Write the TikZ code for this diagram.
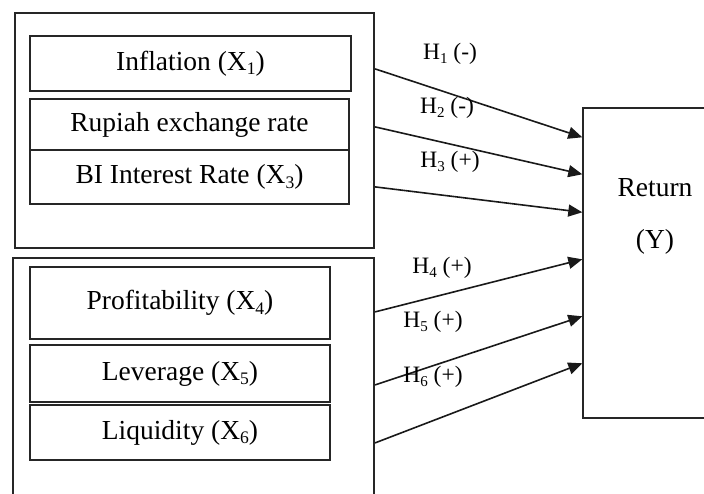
\documentclass[tikz,border=0pt]{standalone}
\usepackage{graphicx}
\usepackage{fontspec}
\setmainfont{Liberation Serif}
\usetikzlibrary{arrows.meta,positioning}
\newcommand{\lowsub}[1]{\raisebox{-0.35ex}{\scalebox{0.64}{#1}}}
\tikzset{
  groupbox/.style={draw=black!85,line width=2.2pt,inner sep=0pt},
  varbox/.style={draw=black!85,line width=1.3pt,inner sep=0pt,
    font=\fontsize{27.5}{32}\selectfont},
  varboxbold/.style={varbox,line width=2.4pt},
  hyplabel/.style={font=\fontsize{23.5}{28}\selectfont,inner sep=0pt},
  hyparrow/.style={-{Triangle[length=14pt,width=12pt]},line width=1.6pt,
    color=black!90},
}
\begin{document}
\begin{tikzpicture}[x=1pt,y=-1pt]
\useasboundingbox(0,0) rectangle (704,494);
% macro variables
\node[groupbox,minimum width=359pt,minimum height=235pt](macro)
  at(194.5,130.5){};
\node[varboxbold,minimum width=321pt,minimum height=55pt](infl)
  at(190.5,63.5){Inflation (X\lowsub{1})};
\node[varboxbold,minimum width=319pt,minimum height=51pt](rupiah)
  at(189.5,124.5){Rupiah exchange rate};
\node[varbox,minimum width=319pt,minimum height=54pt](birate)
  at(189.5,177){BI Interest Rate (X\lowsub{3})};
% firm variables
\node[groupbox,minimum width=361pt,minimum height=250pt](micro)
  at(193.5,383){};
\node[varbox,minimum width=300pt,minimum height=72pt](profit)
  at(180,303){Profitability (X\lowsub{4})};
\node[varbox,minimum width=300pt,minimum height=57pt](lever)
  at(180,373.5){Leverage (X\lowsub{5})};
\node[varbox,minimum width=300pt,minimum height=55pt](liquid)
  at(180,432.5){Liquidity (X\lowsub{6})};
% dependent variable
\node[draw=black!85,line width=1.4pt,inner sep=0pt,
      minimum width=150pt,minimum height=310pt](ret)
  at(658,263){};
\node[varbox,draw=none,align=center](rettext)
  at(655,216){Return\\[20pt](Y)};
% hypotheses
\draw[hyparrow]([yshift=-57pt]macro.north east)--([yshift=-30pt]ret.north west);
\draw[hyparrow]([yshift=-115pt]macro.north east)--([yshift=-67pt]ret.north west);
\draw[hyparrow]([yshift=-175pt]macro.north east)--([yshift=-105pt]ret.north west);
\draw[hyparrow]([yshift=-55pt]micro.north east)--([yshift=-152pt]ret.north west);
\draw[hyparrow]([yshift=-128pt]micro.north east)--([yshift=-209pt]ret.north west);
\draw[hyparrow]([yshift=-186pt]micro.north east)--([yshift=-256pt]ret.north west);
\node[hyplabel](h1) at(450,54){H\lowsub{1} (-)};
\node[hyplabel](h2) at(447,108){H\lowsub{2} (-)};
\node[hyplabel](h3) at(450,162){H\lowsub{3} (+)};
\node[hyplabel](h4) at(442,268){H\lowsub{4} (+)};
\node[hyplabel](h5) at(433,322){H\lowsub{5} (+)};
\node[hyplabel](h6) at(433,377){H\lowsub{6} (+)};
\end{tikzpicture}
\end{document}
